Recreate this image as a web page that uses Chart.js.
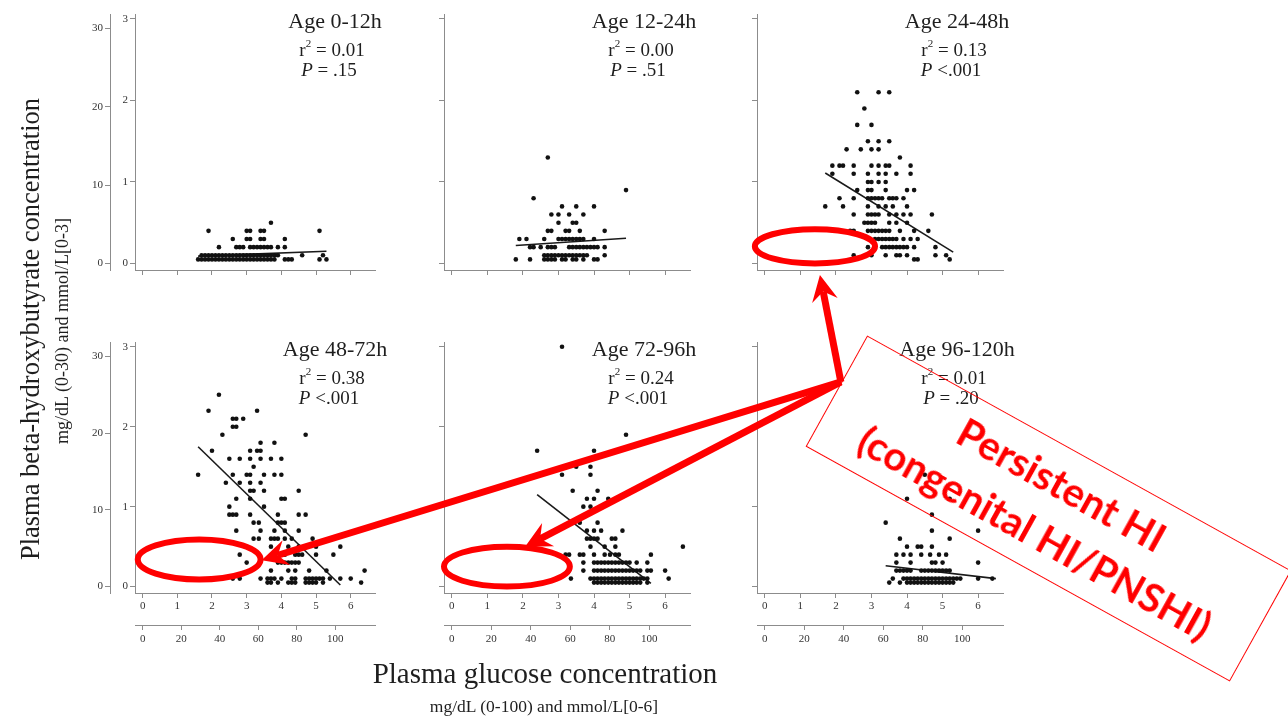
<!DOCTYPE html>
<html>
<head>
<meta charset="utf-8">
<script src="https://cdn.jsdelivr.net/npm/chart.js@4.4.1/dist/chart.umd.min.js"></script>
<style>
  body { margin: 0; background: #fff; }
  #page { position: relative; width: 1288px; height: 721px; overflow: hidden; font-family: "Liberation Serif", serif; color: #1e1e1e; }
  canvas.panel { position: absolute; }
  #overlay { position: absolute; left: 0; top: 0; pointer-events: none; }
  .lbl { position: absolute; white-space: nowrap; transform: translate(-50%, -50%); }
  .rot { transform: translate(-50%, -50%) rotate(-90deg); }
  #hiBox { position: absolute; left: 806px; top: 445px; width: 485px; height: 127px; transform: rotate(29deg);
           border: 1.6px solid #f00; box-sizing: border-box; display: flex; flex-direction: column;
           justify-content: center; align-items: center; color: #f00; font: bold 40px Lato, sans-serif; line-height: 55px; }
</style>
</head>
<body>
<div id="page">
  <canvas id="overlay" width="1288" height="721"></canvas>
  <div class="lbl rot" style="left:30px; top:329px; font-size:26.5px;">Plasma beta-hydroxybutyrate concentration</div>
  <div class="lbl rot" style="left:62px; top:331px; font-size:18px;">mg/dL (0-30) and mmol/L[0-3]</div>
  <div class="lbl" style="left:545px; top:673px; font-size:29px;">Plasma glucose concentration</div>
  <div class="lbl" style="left:544px; top:706px; font-size:17.5px;">mg/dL (0-100) and mmol/L[0-6]</div>
  <div id="hiBox"><div>Persistent HI</div><div>(congenital HI/PNSHI)</div></div>
</div>
<script>
// panel labels
var panelTitles = ['Age 0-12h', 'Age 12-24h', 'Age 24-48h', 'Age 48-72h', 'Age 72-96h', 'Age 96-120h'];
var r2Values = ['0.01', '0.00', '0.13', '0.38', '0.24', '0.01'];
var pValues = ['= .15', '= .51', '<.001', '<.001', '<.001', '= .20'];

// tick labels
var glucoseMmolTicks = [0, 1, 2, 3, 4, 5, 6];
var glucoseMgTicks = [0, 20, 40, 60, 80, 100];
var bhbMmolTicks = [0, 1, 2, 3];
var bhbMgTicks = [0, 10, 20, 30];
var GLUCOSE_MG_PER_MMOL = 18.016;
var BHB_MG_PER_MMOL = 10.41;

// points, grouped by BHB row (mmol/L): [bhb, [glucose mmol/L ...]]
var age0to12 = [
  [0.05, [1.6,1.7,1.8,1.9,2.0,2.1,2.2,2.3,2.4,2.5,2.6,2.7,2.8,2.9,3.0,3.1,3.2,3.3,3.4,3.5,3.6,3.7,3.8,4.1,4.2,4.3,5.1,5.3]],
  [0.1, [1.7,1.8,1.9,2.0,2.1,2.2,2.3,2.4,2.5,2.6,2.7,2.8,2.9,3.0,3.1,3.2,3.3,3.4,3.5,3.6,3.7,3.8,3.9,4.6,5.2]],
  [0.2, [2.2,2.7,2.8,2.9,3.1,3.2,3.3,3.4,3.5,3.6,3.7,3.9,4.1]],
  [0.3, [2.6,3.0,3.1,3.4,3.5,4.1]],
  [0.4, [1.9,3.0,3.1,3.4,3.5,5.1]],
  [0.5, [3.7]]
];
var age12to24 = [
  [0.05, [1.8,2.2,2.6,2.7,2.8,2.9,3.1,3.2,3.4,3.5,3.7,4.0,4.1]],
  [0.1, [2.6,2.7,2.8,2.9,3.0,3.1,3.2,3.3,3.4,3.5,3.6,3.7,3.8,4.3]],
  [0.2, [2.2,2.3,2.5,2.7,2.8,2.9,3.3,3.4,3.5,3.6,3.7,3.8,3.9,4.0,4.1,4.3]],
  [0.3, [1.9,2.1,2.6,3.0,3.1,3.2,3.3,3.4,3.5,3.6,3.7,4.0]],
  [0.4, [2.7,2.8,3.2,3.3,3.6,4.3]],
  [0.5, [3.0,3.4,3.5]],
  [0.6, [2.8,3.0,3.3,3.7]],
  [0.7, [3.1,3.5,4.0]],
  [0.8, [2.3]],
  [0.9, [4.9]],
  [1.3, [2.7]]
];
var age24to48 = [
  [0.05, [4.2,4.3,5.2]],
  [0.1, [2.5,3.0,3.4,3.7,3.8,4.0,4.8,5.1]],
  [0.2, [2.9,3.3,3.4,3.5,3.6,3.7,3.8,3.9,4.0,4.2,4.8]],
  [0.3, [3.1,3.2,3.3,3.4,3.5,3.6,3.7,3.9,4.1,4.3]],
  [0.4, [2.4,2.5,2.9,3.0,3.1,3.2,3.3,3.4,3.5,3.8,4.2,4.6]],
  [0.5, [2.8,2.9,3.0,3.1,3.5,3.7,4.0]],
  [0.6, [2.5,2.9,3.0,3.1,3.2,3.5,3.7,3.9,4.1,4.7]],
  [0.7, [1.7,2.2,2.9,3.2,3.4,3.6,4.0]],
  [0.8, [2.1,2.5,2.9,3.0,3.1,3.2,3.3,3.5,3.6,3.7,3.9]],
  [0.9, [2.6,2.9,3.0,3.4,4.0,4.2]],
  [1.0, [2.9,3.0,3.2,3.4]],
  [1.1, [1.9,2.5,2.9,3.2,3.4,3.7,4.1]],
  [1.2, [1.9,2.1,2.2,2.5,3.0,3.2,3.4,3.5,4.1]],
  [1.3, [3.8]],
  [1.4, [2.3,2.7,3.0,3.2]],
  [1.5, [2.9,3.2,3.5]],
  [1.7, [2.6,3.0]],
  [1.9, [2.8]],
  [2.1, [2.6,3.2,3.5]]
];
var age48to72 = [
  [0.05, [3.6,3.7,3.9,4.2,4.3,4.4,4.7,4.8,4.9,5.0,5.2,6.3]],
  [0.1, [2.6,2.8,3.4,3.6,3.7,3.8,4.0,4.3,4.4,4.7,4.8,4.9,5.0,5.1,5.2,5.4,5.7,6.0]],
  [0.2, [3.7,4.2,4.4,4.8,5.3,6.4]],
  [0.3, [3.0,3.9,4.0,4.1,4.2,4.3,4.4,4.5]],
  [0.4, [2.8,4.0,4.1,4.4,4.5,4.6,5.0,5.5]],
  [0.5, [3.7,4.2,4.5,4.7,5.0,5.7]],
  [0.6, [3.2,3.35,3.7,3.8,3.9,4.1,4.3,4.9]],
  [0.7, [2.7,3.4,3.8,4.1,4.5]],
  [0.8, [3.2,3.35,3.9,4.0,4.1]],
  [0.9, [2.5,2.6,2.7,3.1,3.9,4.5,4.7]],
  [1.0, [2.5,3.5]],
  [1.1, [2.7,3.1,4.0,4.1]],
  [1.2, [3.1,3.2,3.5,4.5]],
  [1.3, [2.4,2.8,3.1,3.4]],
  [1.4, [1.6,2.6,3.0,3.1,3.5,3.8,4.0]],
  [1.5, [3.2]],
  [1.6, [2.5,2.8,3.1,3.4,3.7,4.0]],
  [1.7, [2.0,3.1,3.3,3.4]],
  [1.8, [3.4,3.8]],
  [1.9, [2.3,4.7]],
  [2.0, [2.6,2.7]],
  [2.1, [2.6,2.7,2.9]],
  [2.2, [1.9,3.3]],
  [2.4, [2.2]]
];
var age72to96 = [
  [0.05, [4.0,4.1,4.2,4.3,4.4,4.5,4.6,4.7,4.8,4.9,5.0,5.1,5.2,5.3,5.5]],
  [0.1, [3.35,3.9,4.0,4.1,4.2,4.3,4.4,4.5,4.6,4.7,4.8,4.9,5.0,5.1,5.2,5.3,5.4,5.5,6.1]],
  [0.2, [3.3,3.7,4.0,4.1,4.2,4.3,4.4,4.5,4.6,4.7,4.8,4.9,5.0,5.1,5.2,5.3,5.5,5.6,6.0]],
  [0.3, [3.7,4.0,4.1,4.2,4.3,4.4,4.5,4.6,4.7,4.8,4.9,5.0,5.2,5.5]],
  [0.4, [3.2,3.3,3.6,3.7,4.0,4.3,4.45,4.6,4.7,5.6]],
  [0.5, [3.9,4.3,4.6,6.5]],
  [0.6, [3.8,3.9,4.0,4.1,4.5,4.6]],
  [0.7, [3.8,4.0,4.2,4.8]],
  [0.8, [3.6,4.1]],
  [1.0, [3.7,3.9]],
  [1.1, [3.8,4.0,4.4]],
  [1.2, [3.4,4.1]],
  [1.4, [3.1,3.9]],
  [1.5, [3.5,3.9]],
  [1.7, [2.4,4.0]],
  [1.9, [4.9]],
  [3.0, [3.1]]
];
var age96to120 = [
  [0.05, [3.5,3.8,4.0,4.1,4.2,4.3,4.4,4.5,4.6,4.7,4.8,4.9,5.0,5.1,5.2,5.3]],
  [0.1, [3.6,3.9,4.0,4.1,4.2,4.3,4.4,4.5,4.6,4.7,4.8,4.9,5.0,5.1,5.2,5.3,5.4,5.5,6.0,6.4]],
  [0.2, [3.7,3.8,3.9,4.0,4.1,4.4,4.5,4.6,4.7,4.8,4.9,5.0,5.1,5.2]],
  [0.3, [3.7,4.1,4.7,4.8,5.0,6.0]],
  [0.4, [3.7,3.9,4.1,4.4,4.65,4.9,5.1]],
  [0.5, [4.0,4.3,4.4,4.7]],
  [0.6, [3.8,5.2]],
  [0.7, [4.7,6.0]],
  [0.8, [3.4]],
  [0.9, [4.7]],
  [1.1, [4.0,5.2]],
  [1.4, [4.5]]
];
var panelRows = [age0to12, age12to24, age24to48, age48to72, age72to96, age96to120];

// fitted regression lines (ends, mmol/L)
var fitGlucose = [[1.6, 5.3], [1.8, 4.9], [1.7, 5.3], [1.6, 5.7], [2.4, 5.6], [3.4, 6.5]];
var fitBhb = [[0.09, 0.15], [0.22, 0.31], [1.11, 0.14], [1.75, 0.02], [1.15, 0.04], [0.26, 0.10]];

// red annotations, in panel data units
var ellipses = [
  {panel: 2, x: 1.41, y: 0.21, rx: 1.69, ry: 0.21},
  {panel: 3, x: 1.63, y: 0.34, rx: 1.77, ry: 0.25},
  {panel: 4, x: 1.55, y: 0.25, rx: 1.77, ry: 0.25}
];
var arrowFrom = {panel: 5, x: 2.14, y: 2.56};
var arrowTips = [
  {panel: 2, x: 1.55, y: -0.14},
  {panel: 3, x: 3.43, y: 0.33},
  {panel: 4, x: 2.06, y: 0.50}
];

var X_MIN = -0.22, X_MAX = 6.7, Y_MIN = -0.08, Y_MAX = 3.06;
var AXIS_COLOR = '#8c8c8c';
var TICK_FONT = {family: 'Liberation Serif', size: 11};

// canvas boxes for the 3x2 grid
var panelBoxes = [
  {left: 60, top: 0, width: 335, height: 280},
  {left: 434, top: 0, width: 276, height: 280},
  {left: 747, top: 0, width: 276, height: 280},
  {left: 60, top: 328, width: 335, height: 327},
  {left: 434, top: 328, width: 276, height: 327},
  {left: 747, top: 328, width: 276, height: 327}
];

var statsText = {
  id: 'statsText',
  afterDraw: function(chart, args, o) {
    var a = chart.chartArea, ctx = chart.ctx;
    var big = '19px "Liberation Serif"', small = '11px "Liberation Serif"', it = 'italic 19px "Liberation Serif"';
    ctx.save();
    ctx.fillStyle = '#1e1e1e';
    ctx.textBaseline = 'middle';
    ctx.textAlign = 'center';
    ctx.font = '22px "Liberation Serif"';
    ctx.fillText(o.title, a.left + 200, a.top + 8);
    ctx.textAlign = 'left';
    // r² line
    ctx.font = big;
    var wr = ctx.measureText('r').width;
    var rest = ' = ' + o.r2;
    var wrest = ctx.measureText(rest).width;
    ctx.font = small;
    var w2 = ctx.measureText('2').width;
    var x = a.left + 197 - (wr + w2 + wrest) / 2, y = a.top + 37;
    ctx.font = big; ctx.fillText('r', x, y); x += wr;
    ctx.font = small; ctx.fillText('2', x, y - 7); x += w2;
    ctx.font = big; ctx.fillText(rest, x, y);
    // P line
    ctx.font = it;
    var wp = ctx.measureText('P').width;
    ctx.font = big;
    var ptxt = ' ' + o.p;
    var wpt = ctx.measureText(ptxt).width;
    x = a.left + 194 - (wp + wpt) / 2; y = a.top + 57;
    ctx.font = it; ctx.fillText('P', x, y);
    ctx.font = big; ctx.fillText(ptxt, x + wp, y);
    ctx.restore();
  }
};

function rowsToPoints(rows) {
  var pts = [];
  rows.forEach(function(r) { r[1].forEach(function(x) { pts.push({x: x, y: r[0]}); }); });
  return pts;
}

function fixedTicks(values) {
  return function(scale) { scale.ticks = values.map(function(v) { return {value: v}; }); };
}

function axis(extra) {
  var base = {
    type: 'linear',
    border: {display: true, color: AXIS_COLOR, width: 1},
    grid: {drawOnChartArea: false, drawTicks: true, tickLength: 5, color: AXIS_COLOR},
    ticks: {font: TICK_FONT, color: '#333', padding: 2}
  };
  return Object.assign(base, extra);
}

var page = document.getElementById('page');
var charts = [];

panelBoxes.forEach(function(box, i) {
  var col = i % 3, bottomRow = i >= 3;
  var cv = document.createElement('canvas');
  cv.className = 'panel';
  cv.width = box.width; cv.height = box.height;
  cv.style.left = box.left + 'px'; cv.style.top = box.top + 'px';
  page.insertBefore(cv, document.getElementById('overlay'));

  var scales = {
    x: axis({axis: 'x', position: 'bottom', weight: 0, min: X_MIN, max: X_MAX,
      afterBuildTicks: fixedTicks(glucoseMmolTicks),
      afterFit: function(s) { s.height = bottomRow ? 32 : 10; }}),
    y: axis({axis: 'y', position: 'left', weight: 0, min: Y_MIN, max: Y_MAX,
      afterBuildTicks: fixedTicks(bhbMmolTicks),
      afterFit: function(s) { s.width = col === 0 ? 25 : 10; }})
  };
  scales.x.ticks = Object.assign({}, scales.x.ticks, {display: bottomRow});
  scales.y.ticks = Object.assign({}, scales.y.ticks, {display: col === 0});
  if (bottomRow) {
    scales.x2 = axis({axis: 'x', position: 'bottom', weight: 1,
      min: X_MIN * GLUCOSE_MG_PER_MMOL, max: X_MAX * GLUCOSE_MG_PER_MMOL,
      afterBuildTicks: fixedTicks(glucoseMgTicks),
      afterFit: function(s) { s.height = 30; }});
    scales.x2.ticks = Object.assign({}, scales.x2.ticks, {padding: 3});
  }
  if (col === 0) {
    scales.y2 = axis({axis: 'y', position: 'left', weight: 1,
      min: Y_MIN * BHB_MG_PER_MMOL, max: Y_MAX * BHB_MG_PER_MMOL,
      afterBuildTicks: fixedTicks(bhbMgTicks),
      afterFit: function(s) { s.width = 50; }});
  }

  charts.push(new Chart(cv.getContext('2d'), {
    type: 'scatter',
    data: {
      datasets: [
        {
          data: rowsToPoints(panelRows[i]),
          pointRadius: 2.3,
          pointBackgroundColor: '#111',
          pointBorderWidth: 0
        },
        {
          data: fitGlucose[i].map(function(g, k) { return {x: g, y: fitBhb[i][k]}; }),
          showLine: true,
          borderColor: '#1a1a1a',
          borderWidth: 1.6,
          pointRadius: 0
        }
      ]
    },
    options: {
      responsive: false,
      animation: false,
      layout: {padding: {top: 14, right: 20, left: 0, bottom: 0}},
      scales: scales,
      plugins: {
        legend: {display: false},
        tooltip: {enabled: false},
        statsText: {title: panelTitles[i], r2: r2Values[i], p: pValues[i]}
      }
    },
    plugins: [statsText]
  }));
});

// red ellipses and arrows over the whole page
function toPage(p) {
  var c = charts[p.panel], el = c.canvas;
  return [el.offsetLeft + c.scales.x.getPixelForValue(p.x), el.offsetTop + c.scales.y.getPixelForValue(p.y)];
}

var octx = document.getElementById('overlay').getContext('2d');
octx.strokeStyle = '#f00';
octx.fillStyle = '#f00';

ellipses.forEach(function(e) {
  var c = charts[e.panel];
  var ctr = toPage(e);
  var rx = Math.abs(c.scales.x.getPixelForValue(e.x + e.rx) - c.scales.x.getPixelForValue(e.x));
  var ry = Math.abs(c.scales.y.getPixelForValue(e.y + e.ry) - c.scales.y.getPixelForValue(e.y));
  octx.beginPath();
  octx.lineWidth = 6;
  octx.ellipse(ctr[0], ctr[1], rx, ry, 0, 0, Math.PI * 2);
  octx.stroke();
});

var from = toPage(arrowFrom);
arrowTips.forEach(function(t) {
  var tip = toPage(t);
  var ang = Math.atan2(tip[1] - from[1], tip[0] - from[0]);
  var ux = Math.cos(ang), uy = Math.sin(ang);
  var L = 26, W = 13, N = 17;
  octx.beginPath();
  octx.lineWidth = 7;
  octx.moveTo(from[0], from[1]);
  octx.lineTo(tip[0] - ux * N, tip[1] - uy * N);
  octx.stroke();
  octx.beginPath();
  octx.moveTo(tip[0], tip[1]);
  octx.lineTo(tip[0] - ux * L - uy * W, tip[1] - uy * L + ux * W);
  octx.lineTo(tip[0] - ux * N, tip[1] - uy * N);
  octx.lineTo(tip[0] - ux * L + uy * W, tip[1] - uy * L - ux * W);
  octx.closePath();
  octx.fill();
});
</script>
</body>
</html>
